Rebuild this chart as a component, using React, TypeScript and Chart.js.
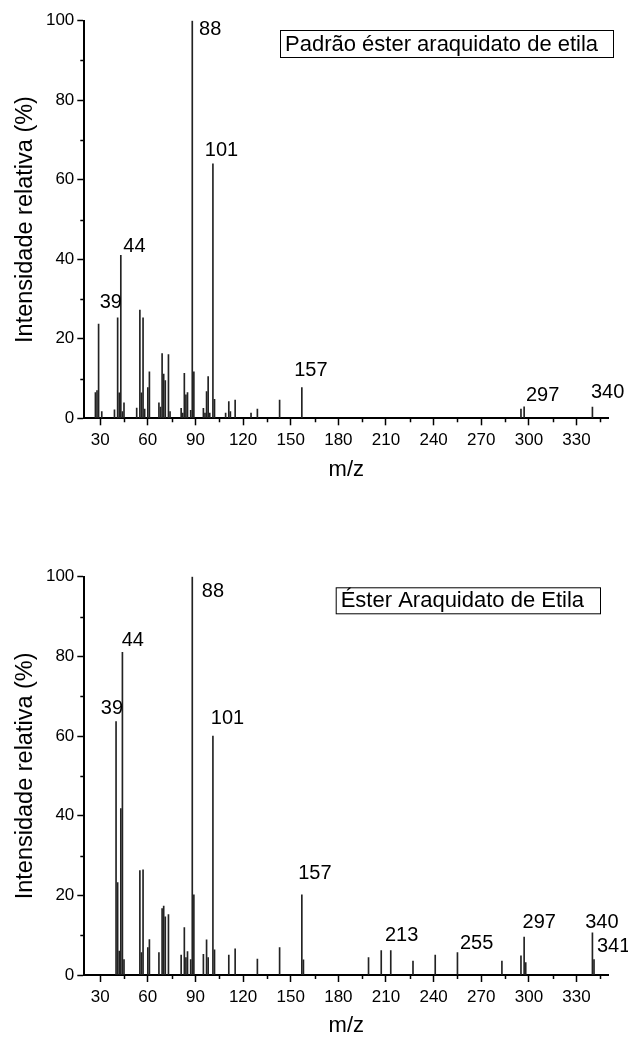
import React, { useEffect, useRef } from 'react';
import { Chart, registerables } from 'chart.js';

Chart.register(...registerables);

const FONT = "'Liberation Sans', Arial, Helvetica, sans-serif";

// Axis ticks
const X_MAJOR_TICKS = [30, 60, 90, 120, 150, 180, 210, 240, 270, 300, 330];
const X_MINOR_TICKS = [45, 75, 105, 135, 165, 195, 225, 255, 285, 315, 345];
const Y_MAJOR_TICKS = [0, 20, 40, 60, 80, 100];
const Y_MINOR_TICKS = [10, 30, 50, 70, 90];

// Padrão éster araquidato de etila (top spectrum)
const STD_MZ = [27, 28, 29, 31, 39, 41, 42, 43, 44, 45, 53, 55, 56, 57, 58, 60, 61, 67, 68, 69, 70, 71, 73, 74, 81, 82, 83, 84, 85, 87, 88, 89, 95, 96, 97, 98, 99, 101, 102, 109, 111, 112, 115, 125, 129, 143, 157, 295, 297, 340];
const STD_INTENSITY = [6.5, 7, 23.7, 1.7, 2.1, 25.3, 6.4, 41, 1.7, 3.9, 2.6, 27.2, 6.4, 25.3, 2.3, 7.7, 11.7, 3.9, 2.8, 16.3, 11.1, 9.5, 16, 1.7, 2.5, 1.3, 11.3, 5.9, 6.5, 2, 100, 11.7, 2.5, 1.3, 6.7, 10.5, 1.3, 64, 4.8, 1.3, 4.2, 1.7, 4.6, 1.3, 2.3, 4.6, 7.7, 2.3, 2.9, 2.8];
const STD_LABEL_TEXT = ['88', '101', '44', '39', '157', '297', '340'];
const STD_LABEL_X = [92.9, 96.5, 45.2, 30.3, 152.8, 298.8, 339.7];
const STD_LABEL_Y = [97.7, 67.3, 43.3, 29.1, 12, 5.7, 6.5];

// Éster Araquidato de Etila (bottom spectrum)
const SAMPLE_MZ = [40, 41, 42, 43, 44, 45, 55, 56, 57, 60, 61, 67, 69, 70, 71, 73, 81, 83, 84, 85, 87, 88, 89, 95, 97, 98, 101, 102, 111, 115, 129, 143, 157, 158, 199, 207, 213, 227, 241, 255, 283, 295, 297, 298, 340, 341];
const SAMPLE_INTENSITY = [63.6, 23.2, 6, 41.8, 81, 3.9, 26.2, 5.6, 26.4, 6.9, 8.9, 5.6, 16.7, 17.3, 14.6, 15.2, 5, 11.9, 4.4, 5.9, 3.9, 100, 20.1, 5.2, 8.8, 4.4, 60, 6.3, 5, 6.6, 4, 6.9, 20.1, 3.8, 4.4, 6.1, 6.1, 3.5, 5, 5.6, 3.5, 4.8, 9.5, 3.1, 10.6, 3.9];
const SAMPLE_LABEL_TEXT = ['88', '44', '39', '101', '157', '213', '255', '297', '340', '341'];
const SAMPLE_LABEL_X = [94.6, 44.2, 31, 100.3, 155.3, 210, 257.2, 296.6, 336.1, 343.5];
const SAMPLE_LABEL_Y = [96.2, 83.9, 67, 64.5, 25.6, 10, 8, 13.3, 13.3, 7.2];

const decorPlugin = {
  id: 'decor',
  afterDraw(chart: any, _args: any, opts: any) {
    const { ctx, chartArea, scales } = chart;
    const x = scales.x;
    const y = scales.y;
    ctx.save();
    // minor ticks
    ctx.strokeStyle = '#000';
    ctx.lineWidth = 1.5;
    ctx.beginPath();
    for (const v of X_MINOR_TICKS) {
      const px = Math.round(x.getPixelForValue(v)) + 0.5;
      ctx.moveTo(px, chartArea.bottom);
      ctx.lineTo(px, chartArea.bottom + 4);
    }
    for (const v of Y_MINOR_TICKS) {
      const py = Math.round(y.getPixelForValue(v)) + 0.5;
      ctx.moveTo(chartArea.left, py);
      ctx.lineTo(chartArea.left - 4, py);
    }
    ctx.stroke();
    // peak labels
    ctx.fillStyle = '#000';
    ctx.font = `20px ${FONT}`;
    ctx.textAlign = 'left';
    ctx.textBaseline = 'middle';
    const texts: string[] = opts.labelText || [];
    texts.forEach((t, i) => {
      ctx.fillText(t, x.getPixelForValue(opts.labelX[i]) - 1, y.getPixelForValue(opts.labelY[i]));
    });
    // legend box
    const lg = opts.legend;
    if (lg) {
      ctx.fillStyle = '#fff';
      ctx.fillRect(lg.left, lg.top, lg.width, lg.height);
      ctx.strokeStyle = '#000';
      ctx.lineWidth = 1;
      ctx.strokeRect(lg.left + 0.5, lg.top + 0.5, lg.width, lg.height);
      ctx.fillStyle = '#000';
      ctx.font = `22px ${FONT}`;
      ctx.textBaseline = 'middle';
      ctx.fillText(lg.text, lg.left + 5, lg.top + lg.height / 2 + 1);
    }
    ctx.restore();
  },
};

type SpecProps = {
  mz: number[];
  intensity: number[];
  labelText: string[];
  labelX: number[];
  labelY: number[];
  legend: { text: string; left: number; top: number; width: number; height: number };
  height: number;
  padTop: number;
  xAxisHeight: number;
  xTitlePad: number;
};

function Spectrum(p: SpecProps) {
  const ref = useRef<HTMLCanvasElement>(null);
  useEffect(() => {
    if (!ref.current) return;
    const chart = new Chart(ref.current, {
      type: 'bar',
      data: {
        datasets: [
          {
            data: p.mz.map((m, i) => ({ x: m, y: p.intensity[i] })),
            backgroundColor: '#222',
            borderWidth: 0,
            barThickness: 1,
          } as any,
        ],
      },
      options: {
        animation: false,
        responsive: false,
        maintainAspectRatio: false,
        layout: { padding: { left: 0, right: 19.7, top: p.padTop, bottom: 0 } },
        plugins: {
          legend: { display: false },
          tooltip: { enabled: false },
          decor: { labelText: p.labelText, labelX: p.labelX, labelY: p.labelY, legend: p.legend },
        } as any,
        scales: {
          x: {
            type: 'linear',
            min: 20,
            max: 350,
            offset: false,
            afterBuildTicks: (s: any) => {
              s.ticks = X_MAJOR_TICKS.map((v) => ({ value: v }));
            },
            afterFit: (s: any) => {
              s.height = p.xAxisHeight;
            },
            grid: { display: true, drawOnChartArea: false, drawTicks: true, tickLength: 7, tickWidth: 1.5, tickColor: '#000', offset: false },
            border: { display: true, color: '#000', width: 2 },
            ticks: { font: { size: 17, family: FONT }, color: '#000', padding: 5, maxRotation: 0, autoSkip: false },
            title: { display: true, text: 'm/z', font: { size: 22, family: FONT }, color: '#000', padding: { top: 0, bottom: p.xTitlePad } },
          } as any,
          y: {
            type: 'linear',
            min: 0,
            max: 100,
            afterBuildTicks: (s: any) => {
              s.ticks = Y_MAJOR_TICKS.map((v) => ({ value: v }));
            },
            afterFit: (s: any) => {
              s.width = 84.3;
            },
            grid: { display: true, drawOnChartArea: false, drawTicks: true, tickLength: 7, tickWidth: 1.5, tickColor: '#000' },
            border: { display: true, color: '#000', width: 2 },
            ticks: { font: { size: 17, family: FONT }, color: '#000', padding: 3, autoSkip: false },
            title: { display: true, text: 'Intensidade relativa (%)', font: { size: 23.5, family: FONT }, color: '#000', padding: { top: 11.5, bottom: 0 } },
          } as any,
        },
      },
      plugins: [decorPlugin as any],
    });
    return () => chart.destroy();
  }, []);
  return <canvas ref={ref} width={628} height={p.height} style={{ display: 'block', width: 628, height: p.height }} />;
}

export default function App() {
  return (
    <div style={{ position: 'absolute', left: 0, top: 0, width: 628, height: 1039, background: '#fff' }}>
      <Spectrum
        mz={STD_MZ}
        intensity={STD_INTENSITY}
        labelText={STD_LABEL_TEXT}
        labelX={STD_LABEL_X}
        labelY={STD_LABEL_Y}
        legend={{ text: 'Padrão éster araquidato de etila', left: 280, top: 30, width: 333, height: 27 }}
        height={520}
        padTop={20.7}
        xAxisHeight={101.7}
        xTitlePad={36.8}
      />
      <Spectrum
        mz={SAMPLE_MZ}
        intensity={SAMPLE_INTENSITY}
        labelText={SAMPLE_LABEL_TEXT}
        labelX={SAMPLE_LABEL_X}
        labelY={SAMPLE_LABEL_Y}
        legend={{ text: 'Éster Araquidato de Etila', left: 335.7, top: 67.3, width: 264.3, height: 26 }}
        height={519}
        padTop={56.7}
        xAxisHeight={64}
        xTitlePad={0}
      />
    </div>
  );
}
